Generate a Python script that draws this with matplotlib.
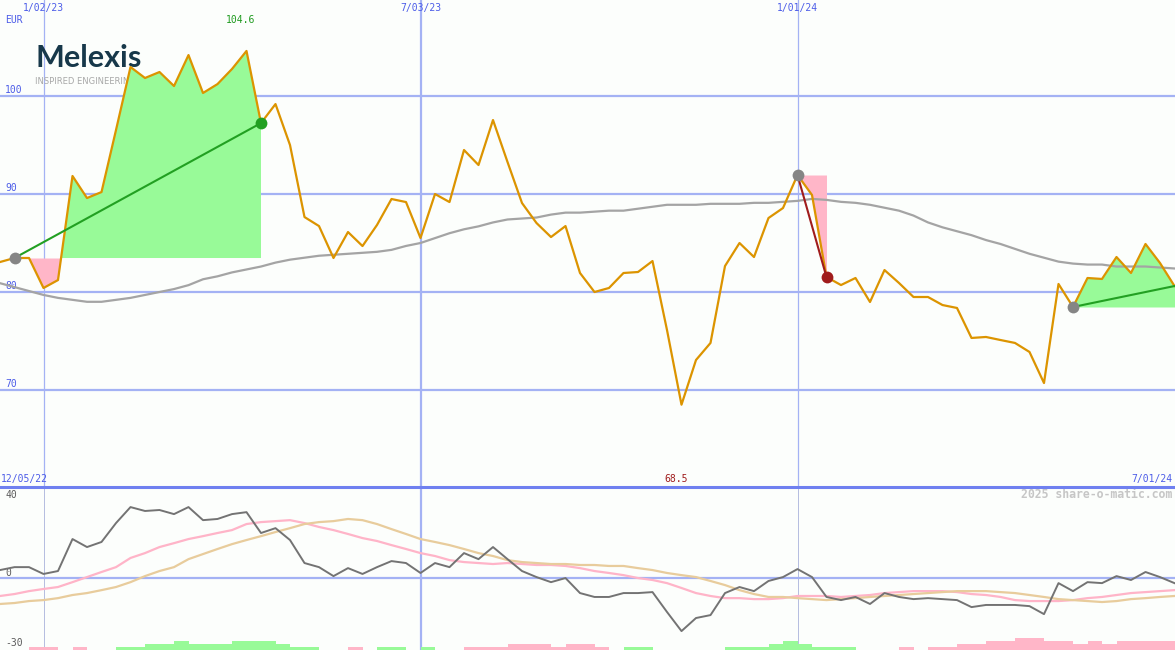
import numpy as np
import matplotlib.pyplot as plt

# weekly closes, Melexis (EUR), week 0 = mid Dec 2022
price = [83.06, 83.47, 83.47, 80.41, 81.22, 91.84, 89.59, 90.20, 96.53, 102.96,
         101.84, 102.45, 101.02, 104.18, 100.31, 101.22, 102.76, 104.6, 97.24, 99.18,
         95.0, 87.65, 86.73, 83.47, 86.12, 84.69, 86.84, 89.49, 89.18, 85.51,
         90.0, 89.18, 94.49, 92.96, 97.55, 93.27, 89.08, 87.04, 85.61, 86.73,
         81.94, 80.0, 80.41, 81.94, 82.04, 83.16, 76.12, 68.5, 73.06, 74.8,
         82.65, 85.0, 83.57, 87.55, 88.57, 91.94, 89.9, 81.53, 80.71, 81.43,
         78.98, 82.24, 80.92, 79.49, 79.49, 78.67, 78.37, 75.31, 75.41, 75.1,
         74.8, 73.88, 70.71, 80.82, 78.47, 81.43, 81.33, 83.57, 81.94, 84.9,
         82.96, 80.61]
ma_long = [80.9, 80.5, 80.1, 79.7, 79.4, 79.2, 79.0, 79.0, 79.2, 79.4,
           79.7, 80.0, 80.3, 80.7, 81.3, 81.6, 82.0, 82.3, 82.6, 83.0,
           83.3, 83.5, 83.7, 83.8, 83.9, 84.0, 84.1, 84.3, 84.7, 85.0,
           85.5, 86.0, 86.4, 86.7, 87.1, 87.4, 87.5, 87.6, 87.9, 88.1,
           88.1, 88.2, 88.3, 88.3, 88.5, 88.7, 88.9, 88.9, 88.9, 89.0,
           89.0, 89.0, 89.1, 89.1, 89.2, 89.3, 89.5, 89.4, 89.2, 89.1,
           88.9, 88.6, 88.3, 87.8, 87.1, 86.6, 86.2, 85.8, 85.3, 84.9,
           84.4, 83.9, 83.5, 83.1, 82.9, 82.8, 82.8, 82.6, 82.6, 82.6,
           82.5, 82.4]
osc = [4.1, 5.6, 5.6, 2.1, 3.6, 20.0, 15.9, 18.5, 28.2, 36.4,
       34.4, 34.9, 32.8, 36.4, 29.7, 30.3, 32.8, 33.8, 23.1, 25.6,
       19.5, 7.7, 5.6, 1.0, 5.1, 2.1, 5.6, 8.7, 7.7, 2.6,
       7.7, 5.6, 12.8, 9.7, 15.9, 9.7, 3.6, 0.5, -2.1, 0.0,
       -7.7, -9.7, -9.7, -7.7, -7.7, -7.2, -17.4, -27.2, -20.5, -19.0,
       -7.7, -4.6, -6.7, -1.5, 0.5, 4.6, 0.5, -9.7, -11.3, -9.7,
       -13.3, -7.7, -9.7, -10.8, -10.3, -10.8, -11.3, -14.9, -13.8, -13.8,
       -13.8, -14.4, -18.5, -2.6, -6.7, -2.1, -2.6, 1.0, -1.0, 3.1,
       0.5, -2.6]
osc_fast = [-9.2, -8.2, -6.7, -5.6, -4.6, -2.1, 0.5, 3.1, 5.6, 10.3,
            12.8, 15.9, 17.9, 20.0, 21.5, 23.1, 24.6, 27.7, 28.7, 29.2,
            29.7, 28.2, 26.2, 24.6, 22.6, 20.5, 19.0, 16.9, 14.9, 12.8,
            11.3, 9.2, 8.2, 7.7, 7.2, 7.7, 7.2, 6.7, 6.7, 6.2,
            5.1, 3.6, 2.6, 1.5, 0.0, -1.0, -2.6, -5.1, -7.7, -9.2,
            -10.3, -10.3, -10.8, -10.8, -10.3, -9.2, -9.2, -9.2, -9.7, -9.2,
            -8.7, -7.7, -7.2, -6.7, -6.7, -6.7, -7.2, -8.2, -8.7, -9.7,
            -11.3, -11.8, -11.8, -11.8, -11.3, -10.3, -9.7, -8.7, -7.7, -7.2,
            -6.7, -6.2]
osc_slow = [-13.3, -12.8, -11.8, -11.3, -10.3, -8.7, -7.7, -6.2, -4.6, -2.1,
            1.0, 3.6, 5.6, 9.7, 12.3, 14.9, 17.4, 19.5, 21.5, 23.6,
            25.6, 27.7, 28.7, 29.2, 30.3, 29.7, 27.7, 25.1, 22.6, 20.0,
            18.5, 16.9, 14.9, 12.8, 11.3, 9.2, 8.2, 7.7, 7.2, 7.2,
            6.7, 6.7, 6.2, 6.2, 5.1, 4.1, 2.6, 1.5, 0.5, -1.5,
            -3.6, -6.2, -8.2, -9.7, -9.7, -10.3, -10.8, -11.3, -10.8, -10.3,
            -9.7, -9.2, -8.7, -8.2, -7.7, -7.2, -6.7, -6.7, -6.7, -7.2,
            -7.7, -8.7, -9.7, -10.8, -11.3, -11.8, -12.3, -11.8, -10.8, -10.3,
            -9.7, -9.2]
hist = [0, 0, -1.5, -1.5, 0, -1.5, 0, 0, 1.5, 1.5,
        3, 3, 4.5, 3, 3, 3, 4.5, 4.5, 4.5, 3,
        1.5, 1.5, 0, 0, -1.5, 0, 1.5, 1.5, 0, 1.5,
        0, 0, -1.5, -1.5, -1.5, -3, -3, -3, -1.5, -3,
        -3, -1.5, 0, 1.5, 1.5, 0, 0, 0, 0, 0,
        1.5, 1.5, 1.5, 3, 4.5, 3, 1.5, 1.5, 1.5, 0,
        0, 0, -1.5, 0, -1.5, -1.5, -3, -3, -4.5, -4.5,
        -6, -6, -4.5, -4.5, -3, -4.5, -3, -4.5, -4.5, -4.5,
        -4.5, -4.5]
weeks = np.arange(len(price))

date_ticks = [3, 29, 55]
date_labels = ['1/02/23', '7/03/23', '1/01/24']
first_date = '12/05/22'
last_date = '7/01/24'
price_ticks = [100, 90, 80, 70]
osc_ticks = [40, 0, -30]
# trend signals: (start week, end week)
signals = [(1, 18), (55, 57), (74, 81)]

bg = '#fcfefc'
grid = '#a4b2f4'
blue_txt = '#4c5ce8'
green = '#98fa98'
pink = '#ffb6c8'
mono = 'DejaVu Sans Mono'

fig = plt.figure(figsize=(11.75, 6.5), dpi=100)
fig.patch.set_facecolor(bg)
split = 163 / 650
ax = fig.add_axes([0, split, 1, 1 - split])
ax2 = fig.add_axes([0, 0, 1, split])
for a in (ax, ax2):
    a.set_facecolor(bg)
    a.set_xlim(0, 1175 / 14.5)
    a.set_xticks([])
    a.set_yticks([])
    for s in a.spines.values():
        s.set_visible(False)
ax.set_ylim(60.1, 109.8)
ax2.set_ylim(-36.9, 46.7)

# grid
for v in price_ticks:
    ax.axhline(v, color=grid, lw=1.6, zorder=1)
    ax.annotate(str(v), (0, v), xytext=(5, 6), textcoords='offset pixels',
                va='center', ha='left', fontsize=7, family=mono, color=blue_txt)
for k, t in enumerate(date_ticks):
    ax.axvline(t, color=grid, lw=1.6 if k == 1 else 0.9, zorder=1)
    ax2.axvline(t, color=grid if k == 1 else '#b4bce0', lw=1.6 if k == 1 else 0.7, zorder=1)
    ax.text(t, 1 - 8 / 487, date_labels[k], transform=ax.get_xaxis_transform(),
            ha='center', va='center', fontsize=7, family=mono, color=blue_txt)
ax.text(5 / 1175, 1 - 20 / 487, 'EUR', transform=ax.transAxes, ha='left', va='center',
        fontsize=7, family=mono, color=blue_txt)
ax.text(1 / 1175, 8 / 487, first_date, transform=ax.transAxes, ha='left', va='center',
        fontsize=7, family=mono, color=blue_txt)
ax.text(1172 / 1175, 8 / 487, last_date, transform=ax.transAxes, ha='right', va='center',
        fontsize=7, family=mono, color=blue_txt)

# logo (under the fills)
ax.text(35 / 1175, 1 - 67 / 487, 'Melexis', transform=ax.transAxes, ha='left', va='baseline',
        fontsize=22, family='Lato', weight='bold', color='#17384a', zorder=1.5)
ax.text(35 / 1175, 1 - 81 / 487, 'INSPIRED ENGINEERING', transform=ax.transAxes, ha='left',
        va='center', fontsize=6, family='DejaVu Sans', color='#a8a8a8', zorder=1.5)

# signal fills
p_all = np.array(price)
for s, e in signals:
    idx = weeks[s:e + 1]
    p = p_all[s:e + 1]
    level = p_all[s]
    ax.fill_between(idx, level, p, where=p >= level, interpolate=True, color=green, lw=0, zorder=2)
    ax.fill_between(idx, level, p, where=p <= level, interpolate=True, color=pink, lw=0, zorder=2)

ax.plot(weeks, ma_long, color='#a4a4a4', lw=1.6, zorder=3)
ax.plot(weeks, price, color='#dc9400', lw=1.6, zorder=4)

for s, e in signals:
    up = price[e] >= price[s]
    c = '#22a022' if up else '#a01c1c'
    ax.plot([s, e], [price[s], price[e]], color=c, lw=1.5, zorder=5)
    ax.plot(s, price[s], 'o', color='#858585', ms=8.5, mec='none', zorder=6)
    if e < len(price) - 1:
        ax.plot(e, price[e], 'o', color=c, ms=8.5, mec='none', zorder=6)

imax = int(np.argmax(price))
imin = int(np.argmin(price))
ax.text(imax - 0.4, 1 - 20 / 487, f'{price[imax]:.1f}', transform=ax.get_xaxis_transform(),
        ha='center', va='center', fontsize=7, family=mono, color='#1e9a1e')
ax.text(imin - 0.4, 8 / 487, f'{price[imin]:.1f}', transform=ax.get_xaxis_transform(),
        ha='center', va='center', fontsize=7, family=mono, color='#a01c1c')

# separator
fig.add_artist(plt.Line2D([0, 1], [split, split], color='#6f80f0', lw=2.2))

# lower panel
ax2.axhline(0, color=grid, lw=1.6, zorder=1)
ymin = ax2.get_ylim()[0]
h = np.array(hist)
ax2.bar(weeks, np.abs(h), bottom=ymin, width=1, align='edge',
        color=[green if v > 0 else pink for v in h], lw=0, zorder=2)
ax2.plot(weeks, osc_fast, color='#ffb4c8', lw=1.6, zorder=3)
ax2.plot(weeks, osc_slow, color='#e8cc9c', lw=1.6, zorder=3)
ax2.plot(weeks, osc, color='#737373', lw=1.4, zorder=4)
for v, dy in zip(osc_ticks, [5, 5, -6]):
    ax2.annotate(str(v), (0, v), xytext=(5, dy), textcoords='offset pixels',
                 va='center', ha='left', fontsize=7, family=mono, color='#5a5a5a')
ax2.text(1172 / 1175, 1 - 8 / 163, '2025 share-o-matic.com', transform=ax2.transAxes,
         ha='right', va='center', fontsize=8.3, family=mono, weight='bold', color='#c6c6c6')

fig.savefig('out.png', dpi=100, facecolor=bg)
